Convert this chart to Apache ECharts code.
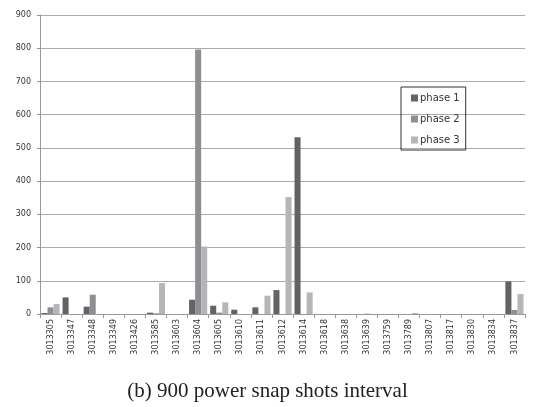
<!DOCTYPE html>
<html>
<head>
    <meta charset="utf-8">
    <title>900 power snap shots interval</title>
    <script src="https://cdn.jsdelivr.net/npm/echarts@6/dist/echarts.min.js"></script>
    <style>
        body { margin: 0; background: #fff; }
        #chart1 { width: 535px; height: 407px; }
    </style>
</head>
<body>
<div id="chart1"></div>
<script>
    // meter ids on the x axis
    var meters = ['3013305', '3013347', '3013348', '3013349', '3013426', '3013585', '3013603', '3013604',
        '3013605', '3013610', '3013611', '3013612', '3013614', '3013618', '3013638', '3013639',
        '3013759', '3013789', '3013807', '3013817', '3013830', '3013834', '3013837'];
    var phase1 = [3, 50, 22, 0, 0, 4, 0, 43, 25, 13, 20, 72, 532, 0, 0, 0, 0, 0, 0, 0, 0, 0, 98];
    var phase2 = [20, 0, 58, 0, 0, 2, 0, 796, 4, 0, 0, 0, 0, 0, 0, 1, 0, 0, 0, 0, 0, 0, 12];
    var phase3 = [30, 0, 0, 0, 0, 93, 0, 203, 35, 0, 55, 352, 65, 0, 0, 0, 0, 3, 0, 0, 0, 0, 60];
    var yTicks = [0, 100, 200, 300, 400, 500, 600, 700, 800, 900];

    var myChart1 = echarts.init(document.getElementById('chart1'));
    myChart1.setOption({
        animation: false,
        title: {
            text: '(b) 900 power snap shots interval',
            left: 'center',
            top: 381,
            padding: 0,
            textStyle: {
                fontFamily: 'Liberation Serif',
                fontSize: 21,
                fontWeight: 'normal',
                color: '#222'
            }
        },
        legend: {
            data: ['phase 1', 'phase 2', 'phase 3'],
            orient: 'vertical',
            left: 401,
            top: 87,
            padding: [5, 6, 4, 10],
            itemGap: 9,
            itemWidth: 7,
            itemHeight: 7,
            borderColor: '#333',
            borderWidth: 1,
            borderRadius: 0,
            icon: 'rect',
            textStyle: { fontFamily: 'DejaVu Sans', fontSize: 10, lineHeight: 12, color: '#333', padding: [0, 0, 0, -3] }
        },
        grid: { left: 40, right: 10, top: 15, bottom: 93 },
        xAxis: {
            type: 'category',
            data: meters,
            axisLine: { lineStyle: { color: '#999' } },
            axisTick: { show: true, length: 4, lineStyle: { color: '#999' } },
            axisLabel: {
                rotate: 90,
                interval: 0,
                fontFamily: 'DejaVu Sans',
                fontSize: 8,
                color: '#333',
                margin: 5
            }
        },
        yAxis: {
            type: 'value',
            min: yTicks[0],
            max: yTicks[yTicks.length - 1],
            interval: 100,
            axisLine: { show: true, lineStyle: { color: '#999' } },
            axisTick: { show: true, length: 3, lineStyle: { color: '#999' } },
            axisLabel: { fontFamily: 'DejaVu Sans', fontSize: 8, color: '#333', margin: 9 },
            splitLine: { lineStyle: { color: '#aaa' } }
        },
        series: [
            { name: 'phase 1', type: 'bar', data: phase1, barGap: '0%', barCategoryGap: '14%', itemStyle: { color: '#636365' } },
            { name: 'phase 2', type: 'bar', data: phase2, barGap: '0%', barCategoryGap: '14%', itemStyle: { color: '#8f8f93' } },
            { name: 'phase 3', type: 'bar', data: phase3, barGap: '0%', barCategoryGap: '14%', itemStyle: { color: '#b6b6b9' } }
        ]
    });
</script>
</body>
</html>
